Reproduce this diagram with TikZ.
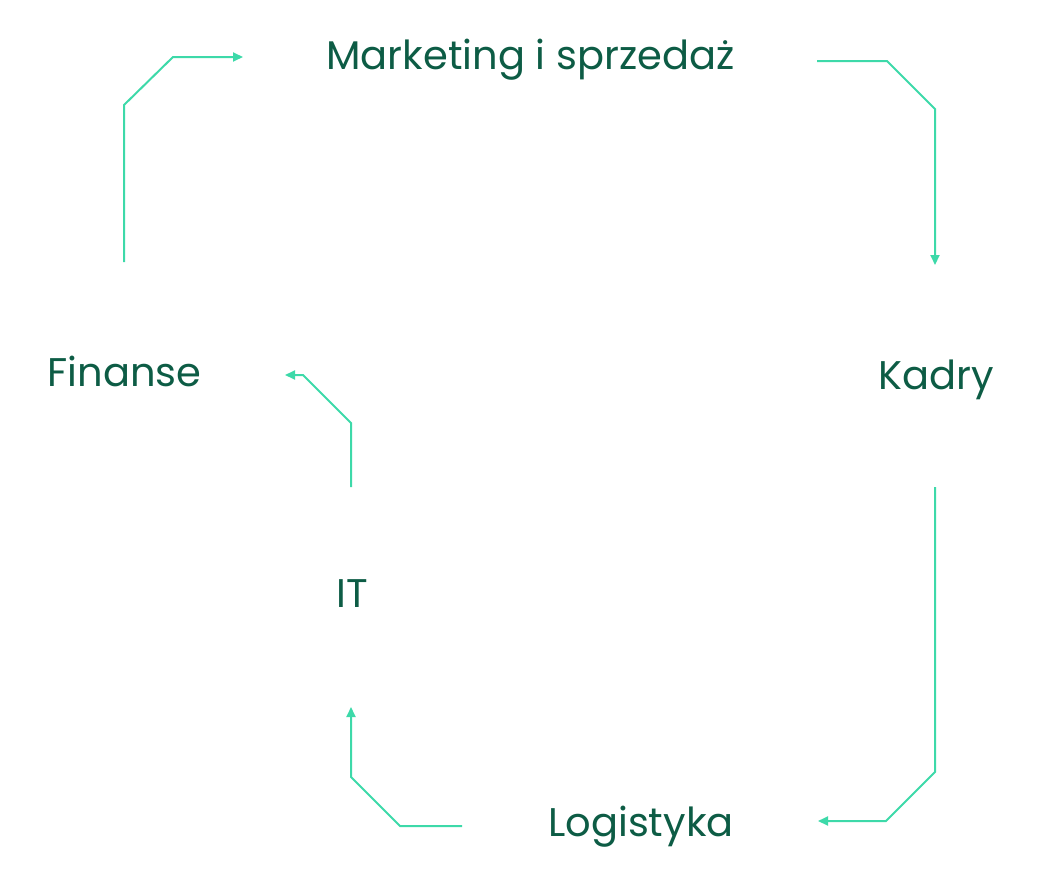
\documentclass[tikz,border=0pt]{standalone}
\usepackage{fontspec}
\setmainfont{Poppins}
\usetikzlibrary{arrows.meta}
\definecolor{txtgreen}{HTML}{0D5C45}
\definecolor{linegreen}{HTML}{3DD9A9}
\tikzset{
  label/.style={text=txtgreen, font=\fontsize{40bp}{48bp}\selectfont, inner sep=0pt, anchor=base},
  flow/.style={draw=linegreen, line width=2bp, line join=miter, -{Triangle[length=10bp,width=9bp]}}
}
\begin{document}
\begin{tikzpicture}[x=1bp,y=-1bp]
\useasboundingbox (0,0) rectangle (1040,880);
\node[label] (mk) at (530.5,69) {Marketing i sprzedaż};
\node[label] (kadry) at (936.5,389) {Kadry};
\node[label] (log) at (641,836) {Logistyka};
\node[label] (it) at (352,607) {IT};
\node[label] (fin) at (124.5,386) {Finanse};
% connector ends
\coordinate (a1s) at (124,262); \coordinate (a1e) at (243,57);
\coordinate (a2s) at (817,61);  \coordinate (a2e) at (935,265);
\coordinate (a3s) at (935,487); \coordinate (a3e) at (818,821);
\coordinate (a4s) at (462,826); \coordinate (a4e) at (351,707);
\coordinate (a5s) at (351,487); \coordinate (a5e) at (285,375);
\draw[flow] (a1s) -- (124,105) -- (173,57) -- (a1e);
\draw[flow] (a2s) -- (887,61) -- (935,109) -- (a2e);
\draw[flow] (a3s) -- (935,772) -- (886,821) -- (a3e);
\draw[flow] (a4s) -- (400,826) -- (351,777) -- (a4e);
\draw[flow] (a5s) -- (351,423) -- (303,375) -- (a5e);
\end{tikzpicture}
\end{document}
